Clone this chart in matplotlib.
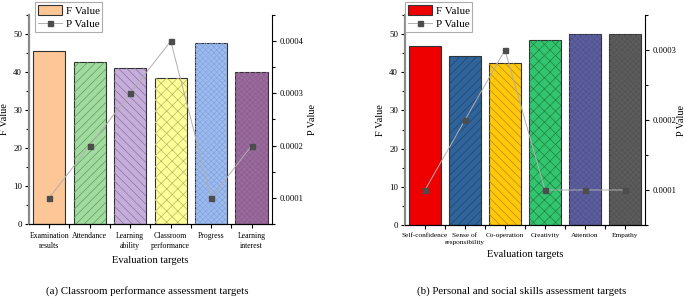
#Recreation of two F/P value bar+line panels
import matplotlib.pyplot as plt
from matplotlib.ticker import MultipleLocator, FormatStrFormatter, FixedLocator
from matplotlib.patches import Patch
from matplotlib.lines import Line2D

plt.rcParams['font.family'] = ['Liberation Serif', 'DejaVu Serif']
plt.rcParams['hatch.linewidth'] = 0.5

# data
classroomTargets = ["Examination\nresults", "Attendance", "Learning\nability",
                    "Classroom\nperformance", "Progress", "Learning\ninterest"]
classroomF = [45.6, 42.5, 41.1, 38.4, 47.5, 40.1]
classroomP = [0.0001, 0.0002, 0.0003, 0.0004, 0.0001, 0.0002]

socialTargets = ["Self-confidence", "Sense of\nresponsibility", "Co-operation",
                 "Creativity", "Attention", "Empathy"]
socialF = [46.8, 44.2, 42.3, 48.5, 50.1, 49.9]
socialP = [0.0001, 0.0002, 0.0003, 0.0001, 0.0001, 0.0001]

#bar styles (face, hatch, hatch colour)
classroomStyle = [("#FCC696", "", None),
                  ("#A2DBA0", "////", "#5E9C5C"),
                  ("#C6AEDB", "\\\\\\\\", "#8A74A0"),
                  ("#FFFF99", "xxx", "#B8B860"),
                  ("#9CBBF0", "xxxxxx", "#86A5DA"),
                  ("#9A6A9C", "xxxxxx", "#8C5E8E")]
socialStyle = [("#EE0000", "", None),
               ("#2F6399", "////", "#1E4670"),
               ("#FFC80A", "\\\\\\\\", "#B88C00"),
               ("#33C46E", "xxx", "#1E8446"),
               ("#5C5F9C", "xxxxxx", "#4F5290"),
               ("#5C5C5C", "xxxxxx", "#525252")]


def panel(fig, rect, names, fvals, pvals, styles, plim, caption, legX, plabelX, catsize):
    ax = fig.add_axes(rect)
    x = list(range(len(names)))
    for i in x:
        face, hatch, hcol = styles[i]
        ax.bar(x[i], fvals[i], width=0.8, color=face, edgecolor="#333333", linewidth=0.8, zorder=2)
        if hatch:
            ax.bar(x[i], fvals[i], width=0.8, color="none", edgecolor=hcol, linewidth=0,
                   hatch=hatch, zorder=2)
    ax.set_xlim(-0.5, len(names) - 0.5)
    ax.set_ylim(0, 55)
    ax.yaxis.set_major_locator(MultipleLocator(10))
    ax.yaxis.set_minor_locator(MultipleLocator(5))
    ax.set_xticks(x)
    ax.set_xticklabels(names, fontsize=catsize, linespacing=1.35)
    ax.xaxis.set_minor_locator(FixedLocator([i + 0.5 for i in x[:-1]]))
    ax.tick_params(axis='y', labelsize=6.3, length=3, width=0.8, pad=2)
    ax.tick_params(axis='y', which='minor', length=2, width=0.8)
    ax.tick_params(axis='x', which='both', length=3, width=0.8, pad=3)
    ax.spines['top'].set_visible(False)
    ax.spines['right'].set_visible(False)
    ax.spines['left'].set_color("#8A8A8A")
    ax.spines['left'].set_linewidth(1.6)
    ax.set_ylabel("F Value", fontsize=7.5, labelpad=3)
    ax.set_xlabel("Evaluation targets", fontsize=7.6, labelpad=4)

    ax2 = ax.twinx()
    ax2.plot(x, pvals, color="#B0B0B0", linewidth=0.7, marker="s", markersize=3.6,
             markerfacecolor="#4D4D4D", markeredgecolor="#4D4D4D", zorder=3)
    ax2.set_ylim(plim)
    ax2.yaxis.set_major_locator(MultipleLocator(0.0001))
    ax2.yaxis.set_minor_locator(MultipleLocator(0.00005))
    ax2.yaxis.set_major_formatter(FormatStrFormatter('%.4f'))
    ax2.tick_params(axis='y', labelsize=6.1, length=3, width=0.8, pad=2.5)
    ax2.tick_params(axis='y', which='minor', length=2, width=0.8)
    ax2.spines['top'].set_visible(False)
    ax2.spines['left'].set_visible(False)
    ax2.set_ylabel("P Value", fontsize=7.3)
    ax2.yaxis.set_label_coords(plabelX, 0.5)

    handles = [Patch(facecolor=styles[0][0], edgecolor="#333333", linewidth=0.8),
               Line2D([], [], color="#B0B0B0", linewidth=0.7, marker="s", markersize=3.6,
                      markerfacecolor="#4D4D4D", markeredgecolor="#4D4D4D")]
    leg = ax2.legend(handles, ["F Value", "P Value"], loc="upper left",
                     bbox_to_anchor=(legX, 1.06), fontsize=8, frameon=True, fancybox=False,
                     handlelength=2.2, handleheight=1.0, handletextpad=0.3, borderpad=0.25,
                     labelspacing=0.2, borderaxespad=0)
    leg.get_frame().set_edgecolor("#999999")
    leg.get_frame().set_linewidth(0.8)

    fig.text(rect[0] + rect[2] / 2 - 0.005, 0.012, caption, ha="center", va="bottom", fontsize=7.8)
    return ax


fig = plt.figure(figsize=(6.85, 3.0), dpi=100)
panel(fig, [0.0423, 0.2533, 0.3547, 0.697], classroomTargets, classroomF, classroomP,
      classroomStyle, (0.00005, 0.00045), "(a) Classroom performance assessment targets",
      0.025, 1.15, 5.6)
panel(fig, [0.5912, 0.25, 0.3504, 0.70], socialTargets, socialF, socialP,
      socialStyle, (0.00005, 0.00035), "(b) Personal and social skills assessment targets",
      0.0, 1.135, 5.2)

plt.savefig("out.png", dpi=100)
